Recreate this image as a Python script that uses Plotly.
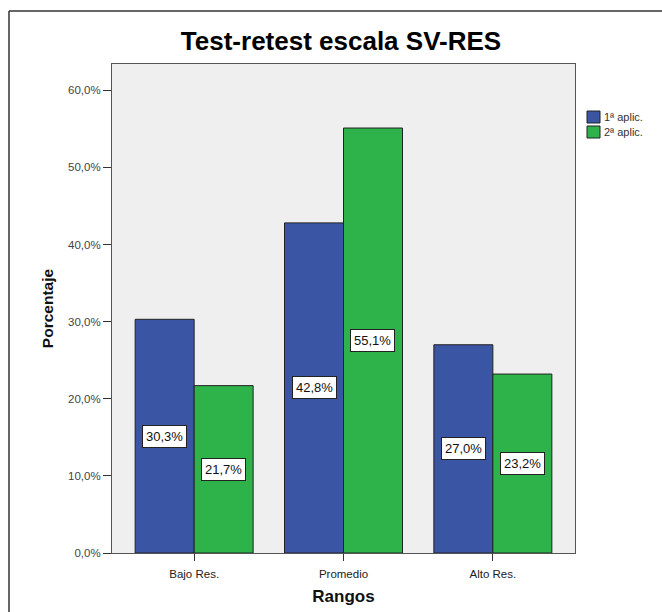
import plotly.graph_objects as go

categories = ["Bajo Res.", "Promedio", "Alto Res."]
series_names = ["1ª aplic.", "2ª aplic."]
aplic1 = [30.3, 42.8, 27.0]
aplic2 = [21.7, 55.1, 23.2]
colors = ["#3B55A5", "#2DB34A"]
y_ticks = [0, 10, 20, 30, 40, 50, 60]

W, H = 662, 612
ml, mr, mt, mb = 112, 87, 64, 59
pw = W - ml - mr
ph = H - mt - mb

def px_x(px):
    return (px - ml) / pw

def px_y(py):
    return (H - mb - py) / ph

fig = go.Figure()
for name, vals, col in zip(series_names, [aplic1, aplic2], colors):
    fig.add_trace(go.Bar(
        x=categories, y=vals, name=name,
        marker=dict(color=col, line=dict(color="#222222", width=1)),
        hoverinfo="skip", showlegend=False,
    ))

def fmt(v):
    return f"{v:.1f}".replace(".", ",") + "%"

cat_px = pw / 3.1
bar_px = cat_px * 0.79 / 2
for shift, vals in zip([-bar_px / 2, bar_px / 2], [aplic1, aplic2]):
    for c, v in zip(categories, vals):
        fig.add_annotation(
            x=c, y=v / 2, xref="x", yref="y", text=fmt(v), showarrow=False,
            xshift=shift, bgcolor="white", bordercolor="#222222", borderwidth=1,
            borderpad=3, font=dict(family="Liberation Sans, Arial", size=13, color="#111111"),
        )

# custom legend
for i, (name, col) in enumerate(zip(series_names, colors)):
    top = 111 + i * 15
    fig.add_shape(type="rect", xref="paper", yref="paper",
                  x0=px_x(587), x1=px_x(600), y0=px_y(top + 12), y1=px_y(top),
                  fillcolor=col, line=dict(color="#222222", width=1))
    fig.add_annotation(xref="paper", yref="paper", x=px_x(602), y=px_y(top + 6),
                       xanchor="left", yanchor="middle", text=name, showarrow=False,
                       font=dict(family="Liberation Sans, Arial", size=11, color="#333333"))

# outer frame lines (left and top)
fx0 = px_x(9)
fy1 = px_y(11)
fig.add_shape(type="line", xref="paper", yref="paper", x0=fx0, x1=fx0, y0=-0.2, y1=fy1,
              line=dict(color="#333333", width=1.5))
fig.add_shape(type="line", xref="paper", yref="paper", x0=fx0, x1=1.3, y0=fy1, y1=fy1,
              line=dict(color="#333333", width=1.5))

fig.update_layout(
    width=W, height=H,
    margin=dict(l=ml, r=mr, t=mt, b=mb, pad=0, autoexpand=False),
    paper_bgcolor="white", plot_bgcolor="#EFEFEF",
    barmode="group", bargap=0.21, bargroupgap=0,
    separators=",.",
    font=dict(family="Liberation Sans, Arial", color="#222222"),
    title=dict(text="<b>Test-retest escala SV-RES</b>", x=341 / W, xanchor="center",
               y=1 - 41 / H, yanchor="middle",
               font=dict(size=26, color="#000000", family="Liberation Sans, Arial")),
    showlegend=False,
)
fig.update_xaxes(
    showgrid=False, showline=True, linecolor="#555555", linewidth=1, mirror=True,
    ticks="outside", ticklen=7, tickcolor="#333333", range=[-0.55, 2.55],
    tickfont=dict(size=11.5, color="#222222"), ticklabelstandoff=3, automargin=False,
    title=dict(text="<b>Rangos</b>", font=dict(size=17, color="#111111"), standoff=11),
)
fig.update_yaxes(
    showgrid=False, showline=True, linecolor="#555555", linewidth=1, mirror=True,
    ticks="outside", ticklen=8, tickcolor="#333333", range=[0, 63.4],
    tickvals=y_ticks, ticktext=[fmt(t) for t in y_ticks], automargin=False,
    tickfont=dict(size=11.5, color="#444444"), zeroline=False,
    title=dict(text="<b>Porcentaje</b>", font=dict(size=15.5, color="#111111"), standoff=10),
)

fig.write_html("out.html")
